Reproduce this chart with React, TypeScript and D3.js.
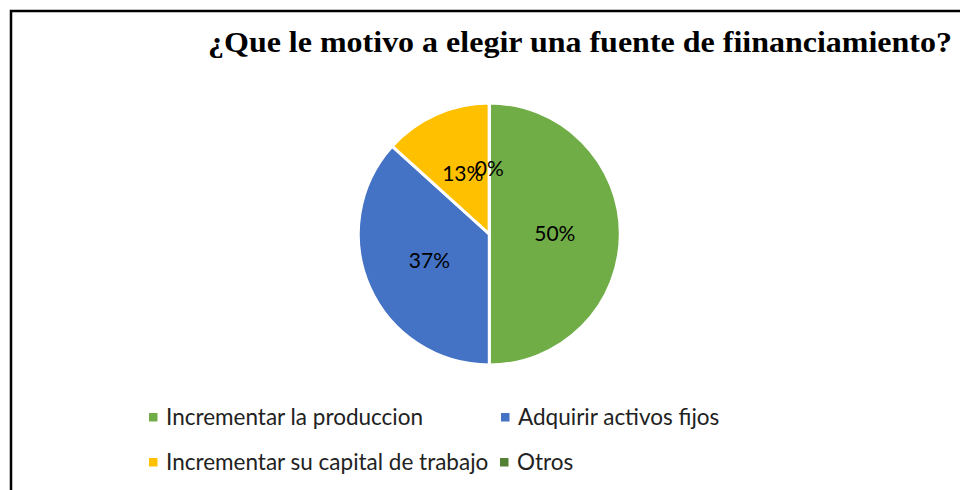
import * as d3 from 'd3';
import React, { useRef, useEffect } from 'react';

const title = '¿Que le motivo a elegir una fuente de fiinanciamiento?';
const categories = ['Incrementar la produccion', 'Adquirir activos fijos', 'Incrementar su capital de trabajo', 'Otros'];
const shares = [50, 36.7, 13.3, 0];
const colors = ['#70AD47', '#4472C4', '#FFC000', '#548235'];

const width = 960;
const height = 490;
const center = { x: 489.3, y: 234 };
const radius = 131;

function PieChart() {
  const ref = useRef<SVGSVGElement>(null);

  useEffect(() => {
    draw();
  }, []); // eslint-disable-line react-hooks/exhaustive-deps

  const draw = () => {
    const svg = d3.select(ref.current);
    svg.selectAll('*').remove();

    // frame, only top and left edges show in the crop
    svg
      .append('rect')
      .attr('x', 11)
      .attr('y', 11)
      .attr('width', 1200)
      .attr('height', 700)
      .attr('fill', '#fff')
      .attr('stroke', '#000')
      .attr('stroke-width', 2.5);

    svg
      .append('text')
      .attr('x', 208)
      .attr('y', 52)
      .attr('textLength', 744)
      .attr('lengthAdjust', 'spacingAndGlyphs')
      .style('font-family', '"Liberation Serif", "Times New Roman", serif')
      .style('font-weight', 'bold')
      .style('font-size', '30px')
      .text(title);

    const data = categories.map((c, i) => ({ name: c, value: shares[i], color: colors[i] }));
    const pie = d3
      .pie<{ name: string; value: number; color: string }>()
      .sort(null)
      .value((d) => d.value);
    const arc = d3
      .arc<d3.PieArcDatum<{ name: string; value: number; color: string }>>()
      .innerRadius(0)
      .outerRadius(radius);

    const g = svg.append('g').attr('transform', `translate(${center.x}, ${center.y})`);
    const arcs = pie(data);

    g.selectAll('path')
      .data(arcs)
      .enter()
      .append('path')
      .attr('d', arc)
      .attr('fill', (d) => d.data.color)
      .attr('stroke', '#fff')
      .attr('stroke-width', 3);

    g.selectAll('text.pct')
      .data(arcs)
      .enter()
      .append('text')
      .attr('class', 'pct')
      .attr('transform', (d) => `translate(${arc.centroid(d)})`)
      .attr('dy', '0.35em')
      .attr('text-anchor', 'middle')
      .style('font-family', 'Lato, "Noto Sans", sans-serif')
      .style('font-size', '21px')
      .attr('fill', '#000')
      .text((d) => `${Math.round(d.data.value)}%`);

    // legend, two per row
    const legendX = [149, 501, 149, 500];
    const rowY = [425, 470];
    const legend = svg
      .selectAll('g.legend')
      .data(data)
      .enter()
      .append('g')
      .attr('class', 'legend')
      .attr('transform', (d, i) => `translate(${legendX[i]}, ${rowY[Math.floor(i / 2)]})`);

    legend
      .append('rect')
      .attr('x', 0)
      .attr('y', -12)
      .attr('width', 8.5)
      .attr('height', 8.5)
      .attr('fill', (d) => d.color);

    legend
      .append('text')
      .attr('x', 17)
      .attr('y', 0)
      .style('font-family', 'Lato, "Noto Sans", sans-serif')
      .style('font-size', '22.5px')
      .attr('fill', '#222')
      .text((d) => d.name);
  };

  return (
    <svg ref={ref} width={width} height={height} style={{ position: 'absolute', left: 0, top: 0, background: '#fff' }} />
  );
}

export default function App() {
  return <PieChart />;
}
